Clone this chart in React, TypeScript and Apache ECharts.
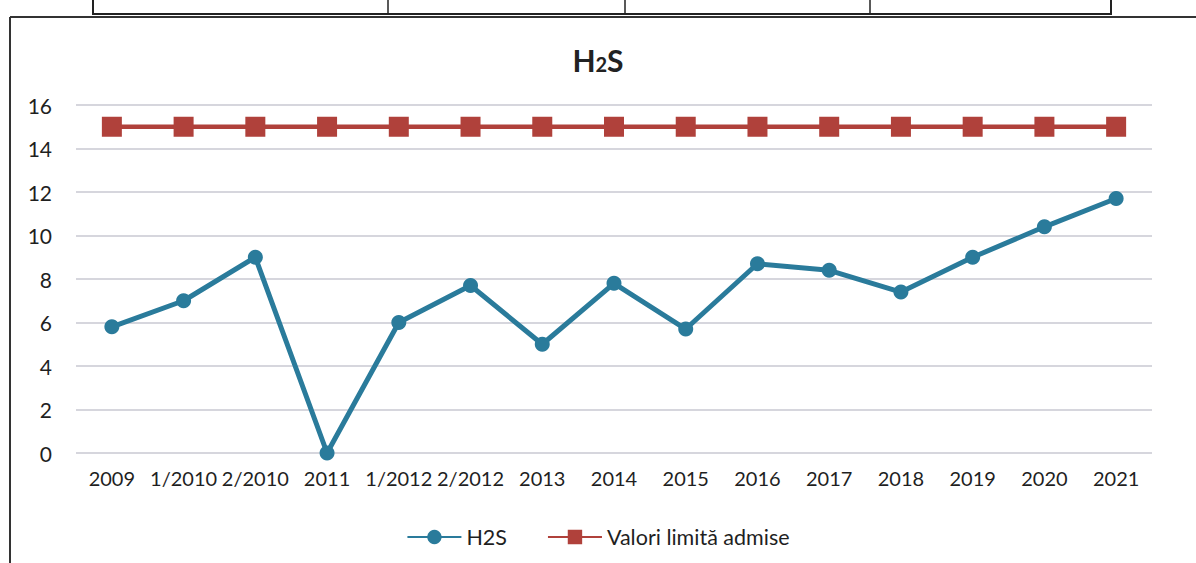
import React, { useEffect, useRef } from "react";
import * as echarts from "echarts";

const categories = ["2009", "1/2010", "2/2010", "2011", "1/2012", "2/2012", "2013", "2014", "2015", "2016", "2017", "2018", "2019", "2020", "2021"];
const h2sValues = [5.8, 7.0, 9.0, 0, 6.0, 7.7, 5.0, 7.8, 5.7, 8.7, 8.4, 7.4, 9.0, 10.4, 11.7];
const limitValues = [15, 15, 15, 15, 15, 15, 15, 15, 15, 15, 15, 15, 15, 15, 15];
const yTicks = { min: 0, max: 16, interval: 2 };

const FONT = "Lato, 'Open Sans', sans-serif";

export default function App() {
  const ref = useRef<HTMLDivElement>(null);
  useEffect(() => {
    document.body.style.margin = "0";
    const chart = echarts.init(ref.current!, null, { renderer: "svg" });
    chart.setOption({
      animation: false,
      backgroundColor: "#ffffff",
      textStyle: { fontFamily: FONT },
      title: {
        text: "{a|H}{b|2}{a|S}",
        left: "center",
        top: 40,
        textStyle: {
          rich: {
            a: { fontSize: 30, fontWeight: "bold", color: "#222", fontFamily: FONT },
            b: { fontSize: 20, fontWeight: "bold", color: "#222", fontFamily: FONT, padding: [7, 0, 0, 0] },
          },
        },
      },
      legend: {
        bottom: 10,
        left: "center",
        itemWidth: 54,
        itemHeight: 18,
        itemGap: 40,
        textStyle: { fontSize: 21.5, color: "#1f1f1f", fontFamily: FONT },
        data: ["H2S", "Valori limită admise"],
      },
      grid: { left: 76, right: 44, top: 105, bottom: 110 },
      xAxis: {
        type: "category",
        data: categories,
        boundaryGap: true,
        axisLine: { show: false },
        axisTick: { show: false },
        axisLabel: { fontSize: 20, color: "#1f1f1f", margin: 15, interval: 0, fontFamily: FONT, overflow: "none" },
      },
      yAxis: {
        type: "value",
        min: yTicks.min,
        max: yTicks.max,
        interval: yTicks.interval,
        axisLine: { show: false },
        axisTick: { show: false },
        axisLabel: { fontSize: 21, color: "#1f1f1f", margin: 24, fontFamily: FONT },
        splitLine: { lineStyle: { color: "#c9c9d2", width: 1.5 } },
      },
      series: [
        {
          name: "H2S",
          type: "line",
          data: h2sValues,
          symbol: "circle",
          symbolSize: 15,
          lineStyle: { color: "#2a7b9b", width: 5 },
          itemStyle: { color: "#2a7b9b" },
          z: 3,
        },
        {
          name: "Valori limită admise",
          type: "line",
          data: limitValues,
          symbol: "rect",
          symbolSize: 20,
          lineStyle: { color: "#b0413b", width: 4.5 },
          itemStyle: { color: "#b0413b" },
          z: 2,
        },
      ],
      graphic: [
        { type: "line", shape: { x1: 10, y1: 17, x2: 1196, y2: 17 }, style: { stroke: "#333", lineWidth: 2 } },
        { type: "line", shape: { x1: 10, y1: 17, x2: 10, y2: 563 }, style: { stroke: "#333", lineWidth: 2 } },
        { type: "rect", shape: { x: 93, y: -10, width: 1018, height: 24 }, style: { fill: "none", stroke: "#222", lineWidth: 2 } },
        { type: "line", shape: { x1: 388, y1: 0, x2: 388, y2: 14 }, style: { stroke: "#222", lineWidth: 1.5 } },
        { type: "line", shape: { x1: 625, y1: 0, x2: 625, y2: 14 }, style: { stroke: "#222", lineWidth: 1.5 } },
        { type: "line", shape: { x1: 870, y1: 0, x2: 870, y2: 14 }, style: { stroke: "#222", lineWidth: 1.5 } },
      ],
    });
    return () => chart.dispose();
  }, []);
  return <div ref={ref} style={{ width: 1196, height: 563 }} />;
}
